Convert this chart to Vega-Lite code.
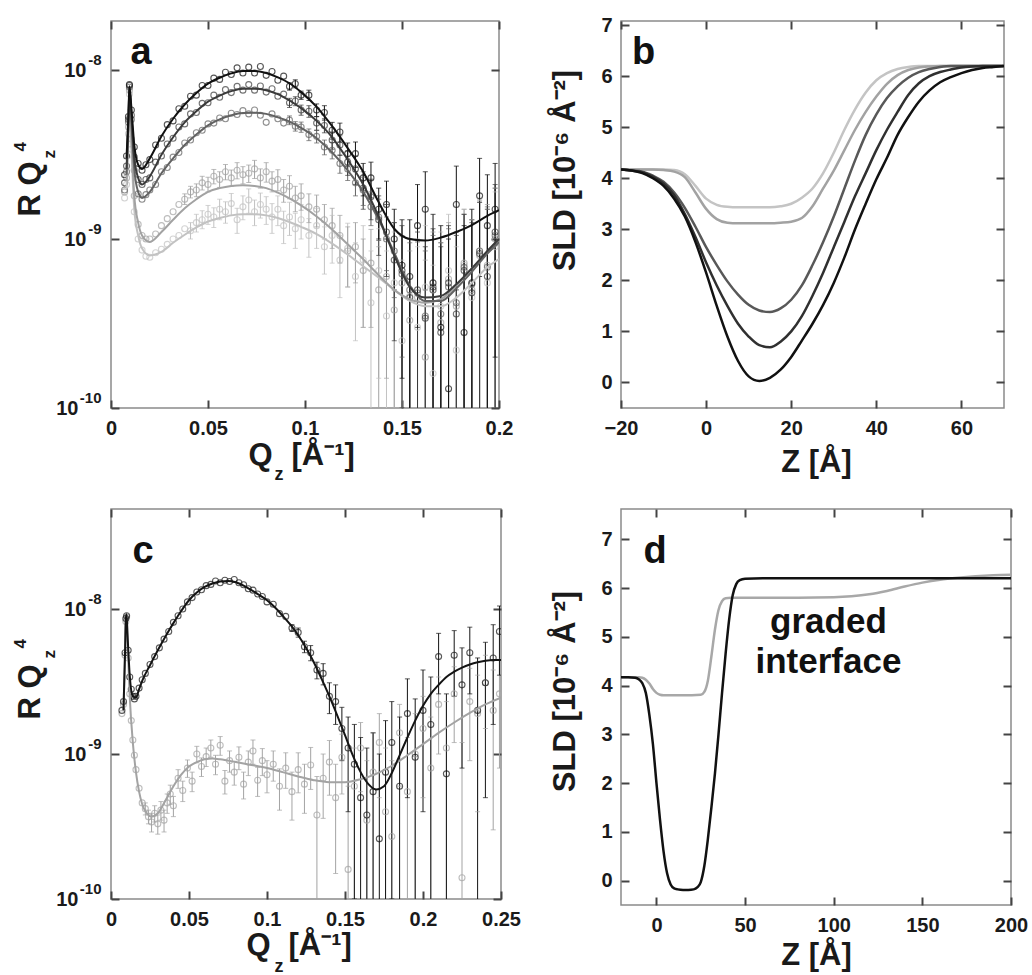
{
"$schema": "https://vega.github.io/schema/vega-lite/v6.json",
"background": "white",
"autosize": {"type": "pad"},
"padding": {"left": 10, "top": 6, "right": 0, "bottom": 0},
"columns": 2,
"bounds": "flush",
"spacing": {"row": 101, "column": 120},
"resolve": {"scale": {"color": "independent"}},
"config": {
  "font": "Liberation Sans",
  "view": {"stroke": "#8a8a8a", "strokeWidth": 1.5},
  "axis": {"grid": false, "domain": false, "labelFont": "Liberation Sans", "labelFontWeight": "bold", "labelFontSize": 20, "labelColor": "#1a1a1a", "labelOverlap": false, "titleFont": "Liberation Sans", "titleFontWeight": "bold", "titleFontSize": 31, "titleColor": "#1a1a1a", "tickColor": "#444444", "tickWidth": 2}
},
"datasets": {
"a_pts": [
{"s":"5","q":0.007,"r":1.75e-9},{"s":"5","q":0.008,"r":2.1e-9},{"s":"5","q":0.009,"r":4.2e-9},{"s":"5","q":0.0095,"r":7.2e-9},{"s":"5","q":0.0105,"r":3.4e-9},{"s":"5","q":0.012,"r":1.45e-9},{"s":"5","q":0.014,"r":1.0e-9},{"s":"5","q":0.016,"r":8.6e-10},{"s":"5","q":0.018,"r":7.9e-10},{"s":"5","q":0.02,"r":7.8e-10},{"s":"5","q":0.023,"r":8.3e-10},{"s":"5","q":0.026,"r":8.7e-10},{"s":"5","q":0.029,"r":9.3e-10},{"s":"5","q":0.032,"r":1.0e-9},{"s":"5","q":0.035,"r":1.05e-9},{"s":"5","q":0.038,"r":1.15e-9},
{"s":"5","q":0.041,"r":1.12e-9,"lo":1.0e-9,"hi":1.25e-9},{"s":"5","q":0.044,"r":1.25e-9,"lo":1.1e-9,"hi":1.4e-9},{"s":"5","q":0.047,"r":1.3e-9,"lo":1.15e-9,"hi":1.47e-9},{"s":"5","q":0.05,"r":1.4e-9,"lo":1.22e-9,"hi":1.58e-9},{"s":"5","q":0.053,"r":1.35e-9,"lo":1.17e-9,"hi":1.53e-9},{"s":"5","q":0.056,"r":1.5e-9,"lo":1.3e-9,"hi":1.72e-9},{"s":"5","q":0.059,"r":1.45e-9,"lo":1.24e-9,"hi":1.66e-9},{"s":"5","q":0.062,"r":1.62e-9,"lo":1.38e-9,"hi":1.86e-9},{"s":"5","q":0.065,"r":1.3e-9,"lo":1.08e-9,"hi":1.52e-9},{"s":"5","q":0.068,"r":1.55e-9,"lo":1.3e-9,"hi":1.8e-9},{"s":"5","q":0.071,"r":1.7e-9,"lo":1.42e-9,"hi":1.98e-9},{"s":"5","q":0.074,"r":1.45e-9,"lo":1.2e-9,"hi":1.7e-9},{"s":"5","q":0.077,"r":1.6e-9,"lo":1.33e-9,"hi":1.87e-9},{"s":"5","q":0.08,"r":1.5e-9,"lo":1.22e-9,"hi":1.78e-9},{"s":"5","q":0.083,"r":1.35e-9,"lo":1.08e-9,"hi":1.62e-9},{"s":"5","q":0.086,"r":1.5e-9,"lo":1.2e-9,"hi":1.8e-9},{"s":"5","q":0.089,"r":1.2e-9,"lo":9.4e-10,"hi":1.46e-9},{"s":"5","q":0.092,"r":1.35e-9,"lo":1.05e-9,"hi":1.65e-9},{"s":"5","q":0.095,"r":1.15e-9,"lo":8.8e-10,"hi":1.42e-9},{"s":"5","q":0.098,"r":1.3e-9,"lo":1.0e-9,"hi":1.6e-9},
{"s":"5","q":0.102,"r":1.05e-9,"lo":7.8e-10,"hi":1.32e-9},{"s":"5","q":0.106,"r":1.2e-9,"lo":8.8e-10,"hi":1.52e-9},{"s":"5","q":0.11,"r":9.0e-10,"lo":6.2e-10,"hi":1.18e-9},{"s":"5","q":0.114,"r":1.05e-9,"lo":7.2e-10,"hi":1.38e-9},{"s":"5","q":0.118,"r":7.5e-10,"lo":4.5e-10,"hi":1.05e-9},{"s":"5","q":0.122,"r":8.8e-10,"lo":5.2e-10,"hi":1.24e-9},{"s":"5","q":0.126,"r":6.0e-10,"lo":2.5e-10,"hi":9.5e-10},{"s":"5","q":0.13,"r":7.5e-10,"lo":3.0e-10,"hi":1.2e-9},{"s":"5","q":0.134,"r":4.2e-10,"lo":1e-11,"hi":8.5e-10},{"s":"5","q":0.138,"r":6.5e-10,"lo":1.5e-10,"hi":1.15e-9},{"s":"5","q":0.142,"r":3.5e-10,"lo":1e-11,"hi":8.5e-10},{"s":"5","q":0.146,"r":5.5e-10,"lo":1e-11,"hi":1.1e-9},{"s":"5","q":0.15,"r":2.5e-10,"lo":1e-11,"hi":7.5e-10},{"s":"5","q":0.154,"r":4.6e-10,"lo":1e-11,"hi":1.0e-9},{"s":"5","q":0.158,"r":3.0e-10,"lo":1e-11,"hi":9.0e-10},{"s":"5","q":0.162,"r":5.2e-10,"lo":1e-11,"hi":1.2e-9},{"s":"5","q":0.166,"r":1.6e-10,"lo":1e-11,"hi":7.0e-10},{"s":"5","q":0.17,"r":4.0e-10,"lo":1e-11,"hi":1.1e-9},{"s":"5","q":0.174,"r":6.5e-10,"lo":1e-11,"hi":1.4e-9},{"s":"5","q":0.178,"r":2.2e-10,"lo":1e-11,"hi":9.0e-10},{"s":"5","q":0.182,"r":7.0e-10,"lo":1e-11,"hi":1.5e-9},{"s":"5","q":0.186,"r":4.5e-10,"lo":1e-11,"hi":1.3e-9},{"s":"5","q":0.19,"r":8.5e-10,"lo":1e-11,"hi":1.7e-9},{"s":"5","q":0.194,"r":5.5e-10,"lo":1e-11,"hi":1.5e-9},{"s":"5","q":0.198,"r":9.0e-10,"lo":1e-11,"hi":1.9e-9},

{"s":"4","q":0.007,"r":1.9e-9},{"s":"4","q":0.008,"r":2.3e-9},{"s":"4","q":0.009,"r":4.6e-9},{"s":"4","q":0.0095,"r":7.6e-9},{"s":"4","q":0.0105,"r":3.9e-9},{"s":"4","q":0.012,"r":1.8e-9},{"s":"4","q":0.014,"r":1.22e-9},{"s":"4","q":0.016,"r":1.05e-9},{"s":"4","q":0.018,"r":1.0e-9},{"s":"4","q":0.02,"r":1.0e-9},{"s":"4","q":0.023,"r":1.07e-9},{"s":"4","q":0.026,"r":1.2e-9},{"s":"4","q":0.029,"r":1.32e-9},{"s":"4","q":0.032,"r":1.45e-9},{"s":"4","q":0.035,"r":1.6e-9},
{"s":"4","q":0.038,"r":1.72e-9,"lo":1.6e-9,"hi":1.85e-9},{"s":"4","q":0.041,"r":1.9e-9,"lo":1.75e-9,"hi":2.05e-9},{"s":"4","q":0.044,"r":1.95e-9,"lo":1.78e-9,"hi":2.12e-9},{"s":"4","q":0.047,"r":2.15e-9,"lo":1.95e-9,"hi":2.35e-9},{"s":"4","q":0.05,"r":2.1e-9,"lo":1.9e-9,"hi":2.32e-9},{"s":"4","q":0.053,"r":2.35e-9,"lo":2.12e-9,"hi":2.58e-9},{"s":"4","q":0.056,"r":2.25e-9,"lo":2.02e-9,"hi":2.5e-9},{"s":"4","q":0.059,"r":2.5e-9,"lo":2.24e-9,"hi":2.76e-9},{"s":"4","q":0.062,"r":2.3e-9,"lo":2.05e-9,"hi":2.56e-9},{"s":"4","q":0.065,"r":2.55e-9,"lo":2.27e-9,"hi":2.83e-9},{"s":"4","q":0.068,"r":2.4e-9,"lo":2.12e-9,"hi":2.68e-9},{"s":"4","q":0.071,"r":2.45e-9,"lo":2.16e-9,"hi":2.74e-9},{"s":"4","q":0.074,"r":2.6e-9,"lo":2.28e-9,"hi":2.92e-9},{"s":"4","q":0.077,"r":2.3e-9,"lo":2.0e-9,"hi":2.6e-9},{"s":"4","q":0.08,"r":2.5e-9,"lo":2.17e-9,"hi":2.83e-9},{"s":"4","q":0.083,"r":2.2e-9,"lo":1.9e-9,"hi":2.5e-9},{"s":"4","q":0.086,"r":2.25e-9,"lo":1.93e-9,"hi":2.57e-9},{"s":"4","q":0.089,"r":1.95e-9,"lo":1.65e-9,"hi":2.25e-9},{"s":"4","q":0.092,"r":2.05e-9,"lo":1.73e-9,"hi":2.37e-9},{"s":"4","q":0.095,"r":1.75e-9,"lo":1.45e-9,"hi":2.05e-9},{"s":"4","q":0.098,"r":1.8e-9,"lo":1.48e-9,"hi":2.12e-9},
{"s":"4","q":0.102,"r":1.55e-9,"lo":1.25e-9,"hi":1.85e-9},{"s":"4","q":0.106,"r":1.5e-9,"lo":1.18e-9,"hi":1.82e-9},{"s":"4","q":0.11,"r":1.3e-9,"lo":1.0e-9,"hi":1.6e-9},{"s":"4","q":0.114,"r":1.2e-9,"lo":8.8e-10,"hi":1.52e-9},{"s":"4","q":0.118,"r":1.05e-9,"lo":7.2e-10,"hi":1.38e-9},{"s":"4","q":0.122,"r":8.5e-10,"lo":5.2e-10,"hi":1.18e-9},{"s":"4","q":0.126,"r":9.0e-10,"lo":5.5e-10,"hi":1.25e-9},{"s":"4","q":0.13,"r":6.5e-10,"lo":3.0e-10,"hi":1.0e-9},{"s":"4","q":0.134,"r":7.2e-10,"lo":3.0e-10,"hi":1.14e-9},{"s":"4","q":0.138,"r":5.0e-10,"lo":1.0e-10,"hi":9.0e-10},{"s":"4","q":0.142,"r":6.0e-10,"lo":1.5e-10,"hi":1.05e-9},{"s":"4","q":0.146,"r":3.8e-10,"lo":1e-11,"hi":8.5e-10},{"s":"4","q":0.15,"r":5.5e-10,"lo":1e-11,"hi":1.05e-9},{"s":"4","q":0.154,"r":3.3e-10,"lo":1e-11,"hi":8.5e-10},{"s":"4","q":0.158,"r":4.5e-10,"lo":1e-11,"hi":1.0e-9},{"s":"4","q":0.162,"r":2.0e-10,"lo":1e-11,"hi":7.5e-10},{"s":"4","q":0.166,"r":5.0e-10,"lo":1e-11,"hi":1.1e-9},{"s":"4","q":0.17,"r":3.2e-10,"lo":1e-11,"hi":9.5e-10},{"s":"4","q":0.174,"r":5.8e-10,"lo":1e-11,"hi":1.25e-9},{"s":"4","q":0.178,"r":4.0e-10,"lo":1e-11,"hi":1.1e-9},{"s":"4","q":0.182,"r":7.2e-10,"lo":1e-11,"hi":1.5e-9},{"s":"4","q":0.186,"r":5.0e-10,"lo":1e-11,"hi":1.3e-9},{"s":"4","q":0.19,"r":8.0e-10,"lo":1e-11,"hi":1.7e-9},{"s":"4","q":0.194,"r":7.0e-10,"lo":1e-11,"hi":1.6e-9},{"s":"4","q":0.198,"r":1.0e-9,"lo":1e-11,"hi":2.0e-9},

{"s":"3","q":0.007,"r":1.95e-9},{"s":"3","q":0.008,"r":2.5e-9},{"s":"3","q":0.009,"r":4.9e-9},{"s":"3","q":0.0095,"r":7.9e-9},{"s":"3","q":0.0105,"r":5.1e-9},{"s":"3","q":0.012,"r":2.55e-9},{"s":"3","q":0.014,"r":1.85e-9},{"s":"3","q":0.016,"r":1.72e-9},{"s":"3","q":0.018,"r":1.83e-9},{"s":"3","q":0.02,"r":1.95e-9},{"s":"3","q":0.023,"r":2.1e-9},{"s":"3","q":0.026,"r":2.5e-9},{"s":"3","q":0.029,"r":2.65e-9},{"s":"3","q":0.032,"r":3.05e-9},{"s":"3","q":0.035,"r":3.25e-9},{"s":"3","q":0.038,"r":3.7e-9},{"s":"3","q":0.041,"r":3.85e-9},{"s":"3","q":0.044,"r":4.25e-9},{"s":"3","q":0.047,"r":4.4e-9},{"s":"3","q":0.05,"r":4.8e-9},{"s":"3","q":0.053,"r":4.85e-9},{"s":"3","q":0.056,"r":5.2e-9},{"s":"3","q":0.059,"r":5.15e-9},{"s":"3","q":0.062,"r":5.55e-9},{"s":"3","q":0.065,"r":5.45e-9},{"s":"3","q":0.068,"r":5.75e-9},{"s":"3","q":0.071,"r":5.5e-9},{"s":"3","q":0.074,"r":5.8e-9},{"s":"3","q":0.077,"r":5.4e-9},{"s":"3","q":0.08,"r":4.9e-9},{"s":"3","q":0.083,"r":5.5e-9},{"s":"3","q":0.086,"r":5.15e-9},{"s":"3","q":0.089,"r":4.85e-9},
{"s":"3","q":0.092,"r":5.05e-9,"lo":4.75e-9,"hi":5.35e-9},{"s":"3","q":0.095,"r":4.65e-9,"lo":4.35e-9,"hi":4.95e-9},{"s":"3","q":0.098,"r":4.6e-9,"lo":4.28e-9,"hi":4.92e-9},{"s":"3","q":0.102,"r":4.15e-9,"lo":3.82e-9,"hi":4.48e-9},{"s":"3","q":0.106,"r":4.05e-9,"lo":3.7e-9,"hi":4.4e-9},{"s":"3","q":0.11,"r":3.5e-9,"lo":3.15e-9,"hi":3.85e-9},{"s":"3","q":0.114,"r":3.35e-9,"lo":2.98e-9,"hi":3.72e-9},{"s":"3","q":0.118,"r":2.8e-9,"lo":2.45e-9,"hi":3.15e-9},{"s":"3","q":0.122,"r":2.6e-9,"lo":2.22e-9,"hi":2.98e-9},{"s":"3","q":0.126,"r":2.15e-9,"lo":1.8e-9,"hi":2.5e-9},{"s":"3","q":0.13,"r":1.95e-9,"lo":1.58e-9,"hi":2.32e-9},{"s":"3","q":0.134,"r":1.55e-9,"lo":1.2e-9,"hi":1.9e-9},{"s":"3","q":0.138,"r":1.35e-9,"lo":9.8e-10,"hi":1.72e-9},{"s":"3","q":0.142,"r":1.0e-9,"lo":6.5e-10,"hi":1.35e-9},{"s":"3","q":0.146,"r":8.5e-10,"lo":4.5e-10,"hi":1.25e-9},{"s":"3","q":0.15,"r":6.2e-10,"lo":2.0e-10,"hi":1.04e-9},{"s":"3","q":0.154,"r":5.0e-10,"lo":5e-11,"hi":9.5e-10},{"s":"3","q":0.158,"r":4.8e-10,"lo":1e-11,"hi":9.6e-10},{"s":"3","q":0.162,"r":3.5e-10,"lo":1e-11,"hi":8.5e-10},{"s":"3","q":0.166,"r":5.0e-10,"lo":1e-11,"hi":1.05e-9},{"s":"3","q":0.17,"r":3.6e-10,"lo":1e-11,"hi":9.5e-10},{"s":"3","q":0.174,"r":5.2e-10,"lo":1e-11,"hi":1.15e-9},{"s":"3","q":0.178,"r":4.2e-10,"lo":1e-11,"hi":1.1e-9},{"s":"3","q":0.182,"r":6.8e-10,"lo":1e-11,"hi":1.4e-9},{"s":"3","q":0.186,"r":5.4e-10,"lo":1e-11,"hi":1.3e-9},{"s":"3","q":0.19,"r":8.5e-10,"lo":1e-11,"hi":1.65e-9},{"s":"3","q":0.194,"r":6.8e-10,"lo":1e-11,"hi":1.55e-9},{"s":"3","q":0.198,"r":1.05e-9,"lo":1e-11,"hi":2.0e-9},

{"s":"2","q":0.007,"r":2.15e-9},{"s":"2","q":0.008,"r":2.7e-9},{"s":"2","q":0.009,"r":5.1e-9},{"s":"2","q":0.0095,"r":8.1e-9},{"s":"2","q":0.0105,"r":5.4e-9},{"s":"2","q":0.012,"r":3.05e-9},{"s":"2","q":0.014,"r":2.25e-9},{"s":"2","q":0.016,"r":2.1e-9},{"s":"2","q":0.018,"r":2.25e-9},{"s":"2","q":0.02,"r":2.3e-9},{"s":"2","q":0.023,"r":2.85e-9},{"s":"2","q":0.026,"r":3.1e-9},{"s":"2","q":0.029,"r":3.65e-9},{"s":"2","q":0.032,"r":3.95e-9},{"s":"2","q":0.035,"r":4.6e-9},{"s":"2","q":0.038,"r":4.8e-9},{"s":"2","q":0.041,"r":5.5e-9},{"s":"2","q":0.044,"r":5.6e-9},{"s":"2","q":0.047,"r":6.35e-9},{"s":"2","q":0.05,"r":6.4e-9},{"s":"2","q":0.053,"r":7.1e-9},{"s":"2","q":0.056,"r":6.9e-9},{"s":"2","q":0.059,"r":7.65e-9},{"s":"2","q":0.062,"r":7.35e-9},{"s":"2","q":0.065,"r":8.0e-9},{"s":"2","q":0.068,"r":7.6e-9},{"s":"2","q":0.071,"r":8.2e-9},{"s":"2","q":0.074,"r":7.6e-9},{"s":"2","q":0.077,"r":8.05e-9},{"s":"2","q":0.08,"r":7.4e-9},{"s":"2","q":0.083,"r":7.75e-9},{"s":"2","q":0.086,"r":7.0e-9},{"s":"2","q":0.089,"r":7.2e-9},
{"s":"2","q":0.092,"r":6.4e-9,"lo":6.0e-9,"hi":6.8e-9},{"s":"2","q":0.095,"r":6.55e-9,"lo":6.15e-9,"hi":6.95e-9},{"s":"2","q":0.098,"r":5.8e-9,"lo":5.4e-9,"hi":6.2e-9},{"s":"2","q":0.102,"r":5.7e-9,"lo":5.25e-9,"hi":6.15e-9},{"s":"2","q":0.106,"r":4.85e-9,"lo":4.4e-9,"hi":5.3e-9},{"s":"2","q":0.11,"r":4.7e-9,"lo":4.25e-9,"hi":5.15e-9},{"s":"2","q":0.114,"r":3.85e-9,"lo":3.4e-9,"hi":4.3e-9},{"s":"2","q":0.118,"r":3.6e-9,"lo":3.12e-9,"hi":4.08e-9},{"s":"2","q":0.122,"r":2.85e-9,"lo":2.38e-9,"hi":3.32e-9},{"s":"2","q":0.126,"r":2.6e-9,"lo":2.1e-9,"hi":3.1e-9},{"s":"2","q":0.13,"r":2.0e-9,"lo":1.5e-9,"hi":2.5e-9},{"s":"2","q":0.134,"r":1.78e-9,"lo":1.3e-9,"hi":2.26e-9},{"s":"2","q":0.138,"r":1.3e-9,"lo":8.0e-10,"hi":1.8e-9},{"s":"2","q":0.142,"r":1.1e-9,"lo":6.0e-10,"hi":1.6e-9},{"s":"2","q":0.146,"r":7.5e-10,"lo":2.5e-10,"hi":1.25e-9},{"s":"2","q":0.15,"r":6.5e-10,"lo":1.0e-10,"hi":1.2e-9},{"s":"2","q":0.154,"r":4.5e-10,"lo":1e-11,"hi":1.0e-9},{"s":"2","q":0.158,"r":5.0e-10,"lo":1e-11,"hi":1.1e-9},{"s":"2","q":0.162,"r":3.4e-10,"lo":1e-11,"hi":9.0e-10},{"s":"2","q":0.166,"r":5.2e-10,"lo":1e-11,"hi":1.15e-9},{"s":"2","q":0.17,"r":2.8e-10,"lo":1e-11,"hi":9.0e-10},{"s":"2","q":0.174,"r":5.5e-10,"lo":1e-11,"hi":1.2e-9},{"s":"2","q":0.178,"r":3.6e-10,"lo":1e-11,"hi":1.05e-9},{"s":"2","q":0.182,"r":6.5e-10,"lo":1e-11,"hi":1.4e-9},{"s":"2","q":0.186,"r":4.8e-10,"lo":1e-11,"hi":1.25e-9},{"s":"2","q":0.19,"r":8.2e-10,"lo":1e-11,"hi":1.65e-9},{"s":"2","q":0.194,"r":6.0e-10,"lo":1e-11,"hi":1.5e-9},{"s":"2","q":0.198,"r":1.1e-9,"lo":1e-11,"hi":2.1e-9},

{"s":"1","q":0.007,"r":2.4e-9},{"s":"1","q":0.008,"r":3.1e-9},{"s":"1","q":0.009,"r":5.3e-9},{"s":"1","q":0.0095,"r":8.2e-9},{"s":"1","q":0.0105,"r":5.8e-9},{"s":"1","q":0.012,"r":3.5e-9},{"s":"1","q":0.014,"r":2.8e-9},{"s":"1","q":0.016,"r":2.55e-9},{"s":"1","q":0.018,"r":2.75e-9},{"s":"1","q":0.02,"r":2.95e-9},{"s":"1","q":0.023,"r":3.6e-9},{"s":"1","q":0.026,"r":3.95e-9},{"s":"1","q":0.029,"r":4.75e-9},{"s":"1","q":0.032,"r":5.0e-9},{"s":"1","q":0.035,"r":5.9e-9},{"s":"1","q":0.038,"r":6.1e-9},{"s":"1","q":0.041,"r":7.0e-9},{"s":"1","q":0.044,"r":7.1e-9},{"s":"1","q":0.047,"r":8.1e-9},{"s":"1","q":0.05,"r":8.1e-9},{"s":"1","q":0.053,"r":8.95e-9},{"s":"1","q":0.056,"r":8.8e-9},{"s":"1","q":0.059,"r":9.7e-9},{"s":"1","q":0.062,"r":9.4e-9},{"s":"1","q":0.065,"r":1.03e-8},{"s":"1","q":0.068,"r":9.6e-9},{"s":"1","q":0.071,"r":1.04e-8},{"s":"1","q":0.074,"r":9.6e-9},{"s":"1","q":0.077,"r":1.05e-8},{"s":"1","q":0.08,"r":9.3e-9},{"s":"1","q":0.083,"r":9.8e-9},{"s":"1","q":0.086,"r":8.7e-9},{"s":"1","q":0.089,"r":9.2e-9},
{"s":"1","q":0.092,"r":8.0e-9,"lo":7.6e-9,"hi":8.4e-9},{"s":"1","q":0.095,"r":8.3e-9,"lo":7.85e-9,"hi":8.75e-9},{"s":"1","q":0.098,"r":7.1e-9,"lo":6.7e-9,"hi":7.5e-9},{"s":"1","q":0.102,"r":7.1e-9,"lo":6.6e-9,"hi":7.6e-9},{"s":"1","q":0.106,"r":5.8e-9,"lo":5.3e-9,"hi":6.3e-9},{"s":"1","q":0.11,"r":5.6e-9,"lo":5.05e-9,"hi":6.15e-9},{"s":"1","q":0.114,"r":4.4e-9,"lo":3.9e-9,"hi":4.9e-9},{"s":"1","q":0.118,"r":4.3e-9,"lo":3.75e-9,"hi":4.85e-9},{"s":"1","q":0.122,"r":3.2e-9,"lo":2.7e-9,"hi":3.7e-9},{"s":"1","q":0.126,"r":3.2e-9,"lo":2.65e-9,"hi":3.75e-9},{"s":"1","q":0.13,"r":2.3e-9,"lo":1.8e-9,"hi":2.8e-9},{"s":"1","q":0.134,"r":2.3e-9,"lo":1.75e-9,"hi":2.85e-9},{"s":"1","q":0.138,"r":1.5e-9,"lo":1.0e-9,"hi":2.0e-9},{"s":"1","q":0.142,"r":1.6e-9,"lo":1.0e-9,"hi":2.2e-9},{"s":"1","q":0.146,"r":1.0e-9,"lo":5.0e-10,"hi":1.5e-9},{"s":"1","q":0.15,"r":7.0e-10,"lo":1.5e-10,"hi":1.3e-9},{"s":"1","q":0.154,"r":6.0e-10,"lo":1e-11,"hi":1.3e-9},{"s":"1","q":0.158,"r":1.2e-9,"lo":3.0e-10,"hi":2.1e-9},{"s":"1","q":0.162,"r":1.5e-9,"lo":5.0e-10,"hi":2.5e-9},{"s":"1","q":0.166,"r":5.5e-10,"lo":1e-11,"hi":1.4e-9},{"s":"1","q":0.17,"r":3.0e-10,"lo":1e-11,"hi":1.2e-9},{"s":"1","q":0.174,"r":1.3e-10,"lo":1e-11,"hi":1.0e-9},{"s":"1","q":0.178,"r":1.6e-9,"lo":5.0e-10,"hi":2.7e-9},{"s":"1","q":0.182,"r":2.8e-10,"lo":1e-11,"hi":1.2e-9},{"s":"1","q":0.186,"r":5.5e-10,"lo":1e-11,"hi":1.5e-9},{"s":"1","q":0.19,"r":1.8e-9,"lo":6.0e-10,"hi":3.0e-9},{"s":"1","q":0.194,"r":1.2e-9,"lo":1e-11,"hi":2.4e-9},{"s":"1","q":0.198,"r":1.5e-9,"lo":2.0e-10,"hi":2.8e-9}
],
"a_fit": [
{"s":"5","q":0.008,"r":2.0e-9},{"s":"5","q":0.009,"r":4.0e-9},{"s":"5","q":0.0095,"r":7.0e-9},{"s":"5","q":0.0105,"r":3.5e-9},{"s":"5","q":0.012,"r":1.5e-9},{"s":"5","q":0.014,"r":1.05e-9},{"s":"5","q":0.016,"r":8.8e-10},{"s":"5","q":0.02,"r":8.0e-10},{"s":"5","q":0.026,"r":8.4e-10},{"s":"5","q":0.032,"r":9.5e-10},{"s":"5","q":0.038,"r":1.06e-9},{"s":"5","q":0.044,"r":1.17e-9},{"s":"5","q":0.05,"r":1.27e-9},{"s":"5","q":0.056,"r":1.33e-9},{"s":"5","q":0.062,"r":1.38e-9},{"s":"5","q":0.068,"r":1.4e-9},{"s":"5","q":0.074,"r":1.4e-9},{"s":"5","q":0.08,"r":1.38e-9},{"s":"5","q":0.086,"r":1.33e-9},{"s":"5","q":0.092,"r":1.26e-9},{"s":"5","q":0.098,"r":1.18e-9},{"s":"5","q":0.106,"r":1.07e-9},{"s":"5","q":0.114,"r":9.4e-10},{"s":"5","q":0.122,"r":8.1e-10},{"s":"5","q":0.13,"r":6.9e-10},{"s":"5","q":0.138,"r":5.9e-10},{"s":"5","q":0.146,"r":5.0e-10},{"s":"5","q":0.154,"r":4.3e-10},{"s":"5","q":0.162,"r":4.0e-10},{"s":"5","q":0.17,"r":4.0e-10},{"s":"5","q":0.178,"r":4.5e-10},{"s":"5","q":0.186,"r":5.5e-10},{"s":"5","q":0.194,"r":6.8e-10},{"s":"5","q":0.2,"r":7.6e-10},
{"s":"4","q":0.008,"r":2.2e-9},{"s":"4","q":0.009,"r":4.5e-9},{"s":"4","q":0.0095,"r":7.5e-9},{"s":"4","q":0.0105,"r":4.0e-9},{"s":"4","q":0.012,"r":1.8e-9},{"s":"4","q":0.014,"r":1.25e-9},{"s":"4","q":0.016,"r":1.05e-9},{"s":"4","q":0.02,"r":9.6e-10},{"s":"4","q":0.026,"r":1.1e-9},{"s":"4","q":0.032,"r":1.3e-9},{"s":"4","q":0.038,"r":1.52e-9},{"s":"4","q":0.044,"r":1.72e-9},{"s":"4","q":0.05,"r":1.9e-9},{"s":"4","q":0.056,"r":2.0e-9},{"s":"4","q":0.062,"r":2.06e-9},{"s":"4","q":0.068,"r":2.08e-9},{"s":"4","q":0.074,"r":2.06e-9},{"s":"4","q":0.08,"r":2.0e-9},{"s":"4","q":0.086,"r":1.88e-9},{"s":"4","q":0.092,"r":1.74e-9},{"s":"4","q":0.098,"r":1.58e-9},{"s":"4","q":0.106,"r":1.36e-9},{"s":"4","q":0.114,"r":1.14e-9},{"s":"4","q":0.122,"r":9.3e-10},{"s":"4","q":0.13,"r":7.6e-10},{"s":"4","q":0.138,"r":6.1e-10},{"s":"4","q":0.146,"r":5.0e-10},{"s":"4","q":0.154,"r":4.4e-10},{"s":"4","q":0.162,"r":4.2e-10},{"s":"4","q":0.17,"r":4.4e-10},{"s":"4","q":0.178,"r":5.3e-10},{"s":"4","q":0.186,"r":6.7e-10},{"s":"4","q":0.194,"r":8.3e-10},{"s":"4","q":0.2,"r":9.4e-10},
{"s":"3","q":0.008,"r":2.4e-9},{"s":"3","q":0.009,"r":5.0e-9},{"s":"3","q":0.0095,"r":8.0e-9},{"s":"3","q":0.0105,"r":5.0e-9},{"s":"3","q":0.012,"r":2.6e-9},{"s":"3","q":0.014,"r":1.9e-9},{"s":"3","q":0.016,"r":1.75e-9},{"s":"3","q":0.02,"r":1.9e-9},{"s":"3","q":0.026,"r":2.45e-9},{"s":"3","q":0.032,"r":3.0e-9},{"s":"3","q":0.038,"r":3.6e-9},{"s":"3","q":0.044,"r":4.15e-9},{"s":"3","q":0.05,"r":4.7e-9},{"s":"3","q":0.056,"r":5.1e-9},{"s":"3","q":0.062,"r":5.4e-9},{"s":"3","q":0.068,"r":5.57e-9},{"s":"3","q":0.074,"r":5.58e-9},{"s":"3","q":0.08,"r":5.5e-9},{"s":"3","q":0.086,"r":5.25e-9},{"s":"3","q":0.092,"r":4.95e-9},{"s":"3","q":0.098,"r":4.55e-9},{"s":"3","q":0.106,"r":3.95e-9},{"s":"3","q":0.114,"r":3.25e-9},{"s":"3","q":0.122,"r":2.55e-9},{"s":"3","q":0.13,"r":1.9e-9},{"s":"3","q":0.138,"r":1.3e-9},{"s":"3","q":0.146,"r":8.3e-10},{"s":"3","q":0.154,"r":5.3e-10},{"s":"3","q":0.162,"r":4.3e-10},{"s":"3","q":0.17,"r":4.3e-10},{"s":"3","q":0.178,"r":5.1e-10},{"s":"3","q":0.186,"r":6.4e-10},{"s":"3","q":0.194,"r":8.2e-10},{"s":"3","q":0.2,"r":9.6e-10},
{"s":"2","q":0.008,"r":2.6e-9},{"s":"2","q":0.009,"r":5.0e-9},{"s":"2","q":0.0095,"r":8.0e-9},{"s":"2","q":0.0105,"r":5.5e-9},{"s":"2","q":0.012,"r":3.0e-9},{"s":"2","q":0.014,"r":2.3e-9},{"s":"2","q":0.016,"r":2.1e-9},{"s":"2","q":0.02,"r":2.35e-9},{"s":"2","q":0.026,"r":3.15e-9},{"s":"2","q":0.032,"r":4.0e-9},{"s":"2","q":0.038,"r":4.9e-9},{"s":"2","q":0.044,"r":5.7e-9},{"s":"2","q":0.05,"r":6.5e-9},{"s":"2","q":0.056,"r":7.05e-9},{"s":"2","q":0.062,"r":7.5e-9},{"s":"2","q":0.068,"r":7.75e-9},{"s":"2","q":0.074,"r":7.75e-9},{"s":"2","q":0.08,"r":7.6e-9},{"s":"2","q":0.086,"r":7.2e-9},{"s":"2","q":0.092,"r":6.6e-9},{"s":"2","q":0.098,"r":5.95e-9},{"s":"2","q":0.106,"r":5.0e-9},{"s":"2","q":0.114,"r":4.0e-9},{"s":"2","q":0.122,"r":2.95e-9},{"s":"2","q":0.13,"r":2.1e-9},{"s":"2","q":0.138,"r":1.35e-9},{"s":"2","q":0.146,"r":8.0e-10},{"s":"2","q":0.154,"r":5.2e-10},{"s":"2","q":0.162,"r":4.5e-10},{"s":"2","q":0.17,"r":4.6e-10},{"s":"2","q":0.178,"r":5.4e-10},{"s":"2","q":0.186,"r":6.7e-10},{"s":"2","q":0.194,"r":8.5e-10},{"s":"2","q":0.2,"r":1.0e-9},
{"s":"1","q":0.008,"r":3.0e-9},{"s":"1","q":0.009,"r":5.5e-9},{"s":"1","q":0.0095,"r":8.0e-9},{"s":"1","q":0.0105,"r":6.0e-9},{"s":"1","q":0.012,"r":3.6e-9},{"s":"1","q":0.014,"r":2.75e-9},{"s":"1","q":0.016,"r":2.6e-9},{"s":"1","q":0.02,"r":3.0e-9},{"s":"1","q":0.026,"r":4.05e-9},{"s":"1","q":0.032,"r":5.15e-9},{"s":"1","q":0.038,"r":6.25e-9},{"s":"1","q":0.044,"r":7.3e-9},{"s":"1","q":0.05,"r":8.3e-9},{"s":"1","q":0.056,"r":9.0e-9},{"s":"1","q":0.062,"r":9.55e-9},{"s":"1","q":0.068,"r":9.85e-9},{"s":"1","q":0.074,"r":9.85e-9},{"s":"1","q":0.08,"r":9.6e-9},{"s":"1","q":0.086,"r":9.05e-9},{"s":"1","q":0.092,"r":8.35e-9},{"s":"1","q":0.098,"r":7.4e-9},{"s":"1","q":0.106,"r":6.05e-9},{"s":"1","q":0.114,"r":4.65e-9},{"s":"1","q":0.122,"r":3.45e-9},{"s":"1","q":0.13,"r":2.5e-9},{"s":"1","q":0.138,"r":1.65e-9},{"s":"1","q":0.146,"r":1.15e-9},{"s":"1","q":0.154,"r":1.0e-9},{"s":"1","q":0.162,"r":9.8e-10},{"s":"1","q":0.17,"r":1.02e-9},{"s":"1","q":0.178,"r":1.1e-9},{"s":"1","q":0.186,"r":1.21e-9},{"s":"1","q":0.194,"r":1.37e-9},{"s":"1","q":0.2,"r":1.48e-9}
],
"a_lab": [{"q":0.0155,"r":1.08e-8,"t":"a"}],
"c_pts": [
{"s":"2","q":0.007,"r":1.9e-9},{"s":"2","q":0.008,"r":2.2e-9},{"s":"2","q":0.009,"r":4.8e-9},{"s":"2","q":0.0095,"r":8.2e-9},{"s":"2","q":0.01,"r":8.8e-9},{"s":"2","q":0.011,"r":4.6e-9},{"s":"2","q":0.012,"r":2.6e-9},{"s":"2","q":0.013,"r":1.7e-9},{"s":"2","q":0.014,"r":1.25e-9},{"s":"2","q":0.015,"r":9.8e-10},{"s":"2","q":0.016,"r":7.8e-10},{"s":"2","q":0.018,"r":5.8e-10},{"s":"2","q":0.02,"r":4.6e-10},
{"s":"2","q":0.022,"r":4.2e-10,"lo":3.8e-10,"hi":4.6e-10},{"s":"2","q":0.024,"r":3.7e-10,"lo":3.3e-10,"hi":4.1e-10},{"s":"2","q":0.026,"r":3.4e-10,"lo":2.9e-10,"hi":3.9e-10},{"s":"2","q":0.028,"r":3.9e-10,"lo":3.4e-10,"hi":4.4e-10},{"s":"2","q":0.03,"r":3.3e-10,"lo":2.8e-10,"hi":3.8e-10},{"s":"2","q":0.032,"r":4.1e-10,"lo":3.5e-10,"hi":4.7e-10},{"s":"2","q":0.034,"r":3.5e-10,"lo":2.9e-10,"hi":4.1e-10},{"s":"2","q":0.036,"r":4.6e-10,"lo":3.9e-10,"hi":5.3e-10},{"s":"2","q":0.038,"r":5.3e-10,"lo":4.5e-10,"hi":6.1e-10},{"s":"2","q":0.04,"r":4.4e-10,"lo":3.7e-10,"hi":5.1e-10},{"s":"2","q":0.043,"r":6.8e-10,"lo":5.8e-10,"hi":7.8e-10},{"s":"2","q":0.046,"r":5.6e-10,"lo":4.7e-10,"hi":6.5e-10},{"s":"2","q":0.049,"r":8.0e-10,"lo":6.9e-10,"hi":9.1e-10},{"s":"2","q":0.052,"r":6.5e-10,"lo":5.5e-10,"hi":7.5e-10},{"s":"2","q":0.055,"r":1.0e-9,"lo":8.7e-10,"hi":1.13e-9},{"s":"2","q":0.058,"r":8.2e-10,"lo":7.0e-10,"hi":9.4e-10},{"s":"2","q":0.061,"r":9.6e-10,"lo":8.2e-10,"hi":1.1e-9},{"s":"2","q":0.064,"r":1.1e-9,"lo":9.5e-10,"hi":1.25e-9},{"s":"2","q":0.067,"r":8.5e-10,"lo":7.2e-10,"hi":9.8e-10},{"s":"2","q":0.07,"r":1.15e-9,"lo":9.8e-10,"hi":1.32e-9},{"s":"2","q":0.073,"r":6.5e-10,"lo":5.3e-10,"hi":7.7e-10},{"s":"2","q":0.076,"r":9.0e-10,"lo":7.5e-10,"hi":1.05e-9},{"s":"2","q":0.079,"r":7.5e-10,"lo":6.1e-10,"hi":8.9e-10},{"s":"2","q":0.082,"r":9.5e-10,"lo":7.8e-10,"hi":1.12e-9},{"s":"2","q":0.085,"r":6.2e-10,"lo":4.9e-10,"hi":7.5e-10},{"s":"2","q":0.088,"r":8.8e-10,"lo":7.1e-10,"hi":1.05e-9},{"s":"2","q":0.091,"r":1.05e-9,"lo":8.5e-10,"hi":1.25e-9},{"s":"2","q":0.094,"r":6.6e-10,"lo":5.1e-10,"hi":8.1e-10},{"s":"2","q":0.097,"r":9.0e-10,"lo":7.1e-10,"hi":1.09e-9},{"s":"2","q":0.1,"r":7.2e-10,"lo":5.4e-10,"hi":9.0e-10},{"s":"2","q":0.104,"r":8.5e-10,"lo":6.5e-10,"hi":1.05e-9},{"s":"2","q":0.108,"r":6.0e-10,"lo":4.1e-10,"hi":7.9e-10},{"s":"2","q":0.112,"r":8.0e-10,"lo":5.8e-10,"hi":1.02e-9},{"s":"2","q":0.116,"r":5.5e-10,"lo":3.5e-10,"hi":7.5e-10},{"s":"2","q":0.12,"r":7.8e-10,"lo":5.4e-10,"hi":1.02e-9},{"s":"2","q":0.124,"r":6.2e-10,"lo":3.9e-10,"hi":8.5e-10},{"s":"2","q":0.128,"r":8.4e-10,"lo":5.7e-10,"hi":1.11e-9},{"s":"2","q":0.132,"r":3.8e-10,"lo":1e-11,"hi":7.0e-10},{"s":"2","q":0.136,"r":6.8e-10,"lo":3.6e-10,"hi":1.0e-9},{"s":"2","q":0.14,"r":8.8e-10,"lo":5.2e-10,"hi":1.24e-9},{"s":"2","q":0.144,"r":5.0e-10,"lo":1.5e-10,"hi":8.5e-10},{"s":"2","q":0.148,"r":9.5e-10,"lo":5.3e-10,"hi":1.37e-9},{"s":"2","q":0.152,"r":1.6e-10,"lo":1e-11,"hi":6.0e-10},{"s":"2","q":0.156,"r":6.0e-10,"lo":1e-11,"hi":1.1e-9},{"s":"2","q":0.16,"r":1.1e-9,"lo":5.5e-10,"hi":1.65e-9},{"s":"2","q":0.164,"r":3.5e-10,"lo":1e-11,"hi":9.0e-10},{"s":"2","q":0.168,"r":7.5e-10,"lo":1e-11,"hi":1.4e-9},{"s":"2","q":0.172,"r":1.2e-9,"lo":5.0e-10,"hi":1.9e-9},{"s":"2","q":0.176,"r":4.0e-10,"lo":1e-11,"hi":1.1e-9},{"s":"2","q":0.18,"r":2.7e-10,"lo":1e-11,"hi":9.0e-10},{"s":"2","q":0.185,"r":1.4e-9,"lo":6.0e-10,"hi":2.2e-9},{"s":"2","q":0.19,"r":5.5e-10,"lo":1e-11,"hi":1.3e-9},{"s":"2","q":0.195,"r":1.0e-9,"lo":1e-11,"hi":1.9e-9},{"s":"2","q":0.2,"r":1.5e-9,"lo":5.0e-10,"hi":2.5e-9},{"s":"2","q":0.205,"r":8.0e-10,"lo":1e-11,"hi":1.8e-9},{"s":"2","q":0.21,"r":2.2e-9,"lo":1.0e-9,"hi":3.4e-9},{"s":"2","q":0.215,"r":1.1e-9,"lo":1e-11,"hi":2.3e-9},{"s":"2","q":0.22,"r":2.6e-9,"lo":1.2e-9,"hi":4.0e-9},{"s":"2","q":0.225,"r":1.4e-10,"lo":1e-11,"hi":1.2e-9},{"s":"2","q":0.23,"r":2.3e-9,"lo":9.0e-10,"hi":3.9e-9},{"s":"2","q":0.235,"r":1.9e-9,"lo":4.0e-10,"hi":3.5e-9},{"s":"2","q":0.24,"r":3.1e-9,"lo":1.5e-9,"hi":4.8e-9},{"s":"2","q":0.245,"r":2.0e-9,"lo":3.0e-10,"hi":3.8e-9},{"s":"2","q":0.249,"r":2.6e-9,"lo":8.0e-10,"hi":4.5e-9},

{"s":"1","q":0.007,"r":2.0e-9},{"s":"1","q":0.008,"r":2.3e-9},{"s":"1","q":0.009,"r":5.0e-9},{"s":"1","q":0.0095,"r":8.6e-9},{"s":"1","q":0.01,"r":9.0e-9},{"s":"1","q":0.011,"r":5.2e-9},{"s":"1","q":0.012,"r":3.4e-9},{"s":"1","q":0.013,"r":2.8e-9},{"s":"1","q":0.014,"r":2.5e-9},{"s":"1","q":0.015,"r":2.4e-9},{"s":"1","q":0.016,"r":2.5e-9},{"s":"1","q":0.018,"r":2.85e-9},{"s":"1","q":0.02,"r":3.25e-9},{"s":"1","q":0.022,"r":3.6e-9},{"s":"1","q":0.025,"r":4.15e-9},{"s":"1","q":0.028,"r":4.7e-9},{"s":"1","q":0.031,"r":5.4e-9},{"s":"1","q":0.034,"r":6.2e-9},{"s":"1","q":0.037,"r":7.0e-9},{"s":"1","q":0.04,"r":8.1e-9},{"s":"1","q":0.043,"r":9.0e-9},{"s":"1","q":0.046,"r":1.0e-8},{"s":"1","q":0.049,"r":1.12e-8},{"s":"1","q":0.052,"r":1.2e-8},{"s":"1","q":0.055,"r":1.31e-8},{"s":"1","q":0.058,"r":1.36e-8},{"s":"1","q":0.061,"r":1.45e-8},{"s":"1","q":0.064,"r":1.48e-8},{"s":"1","q":0.067,"r":1.56e-8},{"s":"1","q":0.07,"r":1.52e-8},{"s":"1","q":0.073,"r":1.58e-8},{"s":"1","q":0.076,"r":1.55e-8},{"s":"1","q":0.079,"r":1.6e-8},{"s":"1","q":0.082,"r":1.52e-8},{"s":"1","q":0.085,"r":1.47e-8},{"s":"1","q":0.088,"r":1.38e-8},{"s":"1","q":0.091,"r":1.35e-8},{"s":"1","q":0.094,"r":1.27e-8},{"s":"1","q":0.097,"r":1.22e-8},{"s":"1","q":0.1,"r":1.12e-8},{"s":"1","q":0.104,"r":1.08e-8},{"s":"1","q":0.108,"r":9.3e-9},{"s":"1","q":0.112,"r":8.9e-9},
{"s":"1","q":0.116,"r":7.4e-9,"lo":7.0e-9,"hi":7.8e-9},{"s":"1","q":0.12,"r":6.9e-9,"lo":6.4e-9,"hi":7.4e-9},{"s":"1","q":0.124,"r":5.5e-9,"lo":5.0e-9,"hi":6.0e-9},{"s":"1","q":0.128,"r":5.0e-9,"lo":4.4e-9,"hi":5.6e-9},{"s":"1","q":0.132,"r":3.8e-9,"lo":3.3e-9,"hi":4.3e-9},{"s":"1","q":0.136,"r":3.6e-9,"lo":3.0e-9,"hi":4.2e-9},{"s":"1","q":0.14,"r":2.5e-9,"lo":1.9e-9,"hi":3.1e-9},{"s":"1","q":0.144,"r":2.3e-9,"lo":1.6e-9,"hi":3.0e-9},{"s":"1","q":0.148,"r":1.5e-9,"lo":9.0e-10,"hi":2.1e-9},{"s":"1","q":0.152,"r":1.1e-9,"lo":4.0e-10,"hi":1.8e-9},{"s":"1","q":0.156,"r":8.5e-10,"lo":1.0e-10,"hi":1.6e-9},{"s":"1","q":0.16,"r":5.0e-10,"lo":1e-11,"hi":1.3e-9},{"s":"1","q":0.164,"r":3.8e-10,"lo":1e-11,"hi":1.1e-9},{"s":"1","q":0.168,"r":5.5e-10,"lo":1e-11,"hi":1.4e-9},{"s":"1","q":0.172,"r":2.6e-10,"lo":1e-11,"hi":1.0e-9},{"s":"1","q":0.176,"r":7.5e-10,"lo":1e-11,"hi":1.7e-9},{"s":"1","q":0.18,"r":1.2e-9,"lo":1.0e-10,"hi":2.3e-9},{"s":"1","q":0.185,"r":6.0e-10,"lo":1e-11,"hi":1.8e-9},{"s":"1","q":0.19,"r":1.9e-9,"lo":5.0e-10,"hi":3.3e-9},{"s":"1","q":0.195,"r":9.5e-10,"lo":1e-11,"hi":2.4e-9},{"s":"1","q":0.2,"r":2.0e-9,"lo":4.0e-10,"hi":3.8e-9},{"s":"1","q":0.205,"r":1.6e-9,"lo":1e-11,"hi":3.4e-9},{"s":"1","q":0.21,"r":4.7e-9,"lo":2.6e-9,"hi":6.8e-9},{"s":"1","q":0.215,"r":7.3e-10,"lo":1e-11,"hi":2.6e-9},{"s":"1","q":0.22,"r":4.8e-9,"lo":2.5e-9,"hi":7.1e-9},{"s":"1","q":0.225,"r":3.0e-9,"lo":8.0e-10,"hi":5.4e-9},{"s":"1","q":0.23,"r":5.0e-9,"lo":2.6e-9,"hi":7.5e-9},{"s":"1","q":0.235,"r":2.0e-9,"lo":1e-11,"hi":4.6e-9},{"s":"1","q":0.24,"r":3.1e-9,"lo":5.0e-10,"hi":5.9e-9},{"s":"1","q":0.245,"r":4.6e-9,"lo":1.6e-9,"hi":7.8e-9},{"s":"1","q":0.249,"r":7.0e-9,"lo":3.5e-9,"hi":1.05e-8}
],
"c_fit": [
{"s":"2","q":0.008,"r":2.0e-9},{"s":"2","q":0.009,"r":5.0e-9},{"s":"2","q":0.0095,"r":8.5e-9},{"s":"2","q":0.01,"r":9.0e-9},{"s":"2","q":0.0105,"r":6.5e-9},{"s":"2","q":0.012,"r":2.5e-9},{"s":"2","q":0.014,"r":1.2e-9},{"s":"2","q":0.016,"r":7.5e-10},{"s":"2","q":0.018,"r":5.5e-10},{"s":"2","q":0.02,"r":4.5e-10},{"s":"2","q":0.023,"r":3.9e-10},{"s":"2","q":0.026,"r":3.7e-10},{"s":"2","q":0.03,"r":3.9e-10},{"s":"2","q":0.035,"r":4.8e-10},{"s":"2","q":0.04,"r":6.0e-10},{"s":"2","q":0.045,"r":7.2e-10},{"s":"2","q":0.05,"r":8.2e-10},{"s":"2","q":0.055,"r":8.8e-10},{"s":"2","q":0.06,"r":9.2e-10},{"s":"2","q":0.065,"r":9.3e-10},{"s":"2","q":0.07,"r":9.2e-10},{"s":"2","q":0.08,"r":8.8e-10},{"s":"2","q":0.09,"r":8.4e-10},{"s":"2","q":0.1,"r":8.0e-10},{"s":"2","q":0.11,"r":7.5e-10},{"s":"2","q":0.12,"r":7.0e-10},{"s":"2","q":0.13,"r":6.6e-10},{"s":"2","q":0.14,"r":6.4e-10},{"s":"2","q":0.15,"r":6.4e-10},{"s":"2","q":0.16,"r":6.7e-10},{"s":"2","q":0.17,"r":7.3e-10},{"s":"2","q":0.18,"r":8.3e-10},{"s":"2","q":0.19,"r":9.8e-10},{"s":"2","q":0.2,"r":1.17e-9},{"s":"2","q":0.21,"r":1.4e-9},{"s":"2","q":0.22,"r":1.65e-9},{"s":"2","q":0.23,"r":1.92e-9},{"s":"2","q":0.24,"r":2.2e-9},{"s":"2","q":0.25,"r":2.45e-9},
{"s":"1","q":0.008,"r":2.0e-9},{"s":"1","q":0.009,"r":5.0e-9},{"s":"1","q":0.0095,"r":8.5e-9},{"s":"1","q":0.01,"r":9.2e-9},{"s":"1","q":0.0105,"r":7.0e-9},{"s":"1","q":0.012,"r":3.5e-9},{"s":"1","q":0.014,"r":2.5e-9},{"s":"1","q":0.016,"r":2.45e-9},{"s":"1","q":0.018,"r":2.8e-9},{"s":"1","q":0.02,"r":3.2e-9},{"s":"1","q":0.025,"r":4.1e-9},{"s":"1","q":0.03,"r":5.2e-9},{"s":"1","q":0.035,"r":6.5e-9},{"s":"1","q":0.04,"r":8.0e-9},{"s":"1","q":0.045,"r":9.7e-9},{"s":"1","q":0.05,"r":1.15e-8},{"s":"1","q":0.055,"r":1.3e-8},{"s":"1","q":0.06,"r":1.42e-8},{"s":"1","q":0.065,"r":1.5e-8},{"s":"1","q":0.07,"r":1.55e-8},{"s":"1","q":0.075,"r":1.56e-8},{"s":"1","q":0.08,"r":1.53e-8},{"s":"1","q":0.085,"r":1.45e-8},{"s":"1","q":0.09,"r":1.35e-8},{"s":"1","q":0.095,"r":1.25e-8},{"s":"1","q":0.1,"r":1.15e-8},{"s":"1","q":0.105,"r":1.03e-8},{"s":"1","q":0.11,"r":9.0e-9},{"s":"1","q":0.115,"r":7.8e-9},{"s":"1","q":0.12,"r":6.6e-9},{"s":"1","q":0.125,"r":5.4e-9},{"s":"1","q":0.13,"r":4.3e-9},{"s":"1","q":0.135,"r":3.3e-9},{"s":"1","q":0.14,"r":2.5e-9},{"s":"1","q":0.145,"r":1.85e-9},{"s":"1","q":0.15,"r":1.35e-9},{"s":"1","q":0.155,"r":9.8e-10},{"s":"1","q":0.16,"r":7.5e-10},{"s":"1","q":0.165,"r":6.2e-10},{"s":"1","q":0.17,"r":5.7e-10},{"s":"1","q":0.175,"r":6.0e-10},{"s":"1","q":0.18,"r":7.4e-10},{"s":"1","q":0.185,"r":9.8e-10},{"s":"1","q":0.19,"r":1.3e-9},{"s":"1","q":0.195,"r":1.7e-9},{"s":"1","q":0.2,"r":2.15e-9},{"s":"1","q":0.205,"r":2.6e-9},{"s":"1","q":0.21,"r":3.0e-9},{"s":"1","q":0.215,"r":3.4e-9},{"s":"1","q":0.22,"r":3.7e-9},{"s":"1","q":0.225,"r":3.95e-9},{"s":"1","q":0.23,"r":4.15e-9},{"s":"1","q":0.235,"r":4.3e-9},{"s":"1","q":0.24,"r":4.4e-9},{"s":"1","q":0.245,"r":4.45e-9},{"s":"1","q":0.25,"r":4.45e-9}
],
"c_lab": [{"q":0.0205,"r":2.07e-8,"t":"c"}],
"b_lines": [
{"s":"1","z":-20,"v":4.17},{"s":"1","z":-17.5,"v":4.17},{"s":"1","z":-15,"v":4.17},{"s":"1","z":-12.5,"v":4.17},{"s":"1","z":-10,"v":4.17},{"s":"1","z":-7.5,"v":4.16},{"s":"1","z":-5,"v":4.08},{"s":"1","z":-2.5,"v":3.85},{"s":"1","z":0,"v":3.6},{"s":"1","z":2.5,"v":3.48},{"s":"1","z":5,"v":3.44},{"s":"1","z":7.5,"v":3.43},{"s":"1","z":10,"v":3.43},{"s":"1","z":12.5,"v":3.43},{"s":"1","z":15,"v":3.43},{"s":"1","z":17.5,"v":3.45},{"s":"1","z":20,"v":3.5},{"s":"1","z":22.5,"v":3.62},{"s":"1","z":25,"v":3.8},{"s":"1","z":27.5,"v":4.1},{"s":"1","z":30,"v":4.5},{"s":"1","z":32.5,"v":4.95},{"s":"1","z":35,"v":5.35},{"s":"1","z":37.5,"v":5.68},{"s":"1","z":40,"v":5.92},{"s":"1","z":42.5,"v":6.06},{"s":"1","z":45,"v":6.14},{"s":"1","z":47.5,"v":6.18},{"s":"1","z":50,"v":6.2},{"s":"1","z":55,"v":6.2},{"s":"1","z":60,"v":6.2},{"s":"1","z":65,"v":6.2},{"s":"1","z":70,"v":6.2},
{"s":"2","z":-20,"v":4.17},{"s":"2","z":-17.5,"v":4.17},{"s":"2","z":-15,"v":4.17},{"s":"2","z":-12.5,"v":4.17},{"s":"2","z":-10,"v":4.16},{"s":"2","z":-7.5,"v":4.13},{"s":"2","z":-5,"v":4.02},{"s":"2","z":-2.5,"v":3.72},{"s":"2","z":0,"v":3.4},{"s":"2","z":2.5,"v":3.2},{"s":"2","z":5,"v":3.13},{"s":"2","z":7.5,"v":3.12},{"s":"2","z":10,"v":3.12},{"s":"2","z":12.5,"v":3.12},{"s":"2","z":15,"v":3.12},{"s":"2","z":17.5,"v":3.13},{"s":"2","z":20,"v":3.15},{"s":"2","z":22.5,"v":3.22},{"s":"2","z":25,"v":3.45},{"s":"2","z":27.5,"v":3.8},{"s":"2","z":30,"v":4.15},{"s":"2","z":32.5,"v":4.55},{"s":"2","z":35,"v":4.95},{"s":"2","z":37.5,"v":5.3},{"s":"2","z":40,"v":5.6},{"s":"2","z":42.5,"v":5.85},{"s":"2","z":45,"v":6.02},{"s":"2","z":47.5,"v":6.12},{"s":"2","z":50,"v":6.17},{"s":"2","z":52.5,"v":6.19},{"s":"2","z":55,"v":6.2},{"s":"2","z":60,"v":6.2},{"s":"2","z":65,"v":6.2},{"s":"2","z":70,"v":6.2},
{"s":"3","z":-20,"v":4.17},{"s":"3","z":-17.5,"v":4.15},{"s":"3","z":-15,"v":4.13},{"s":"3","z":-12.5,"v":4.05},{"s":"3","z":-10,"v":3.93},{"s":"3","z":-7.5,"v":3.72},{"s":"3","z":-5,"v":3.42},{"s":"3","z":-2.5,"v":3.05},{"s":"3","z":0,"v":2.65},{"s":"3","z":2.5,"v":2.3},{"s":"3","z":5,"v":1.98},{"s":"3","z":7.5,"v":1.72},{"s":"3","z":10,"v":1.52},{"s":"3","z":12.5,"v":1.41},{"s":"3","z":15,"v":1.38},{"s":"3","z":17.5,"v":1.45},{"s":"3","z":20,"v":1.62},{"s":"3","z":22.5,"v":1.9},{"s":"3","z":25,"v":2.3},{"s":"3","z":27.5,"v":2.75},{"s":"3","z":30,"v":3.25},{"s":"3","z":32.5,"v":3.8},{"s":"3","z":35,"v":4.35},{"s":"3","z":37.5,"v":4.85},{"s":"3","z":40,"v":5.25},{"s":"3","z":42.5,"v":5.57},{"s":"3","z":45,"v":5.8},{"s":"3","z":47.5,"v":5.97},{"s":"3","z":50,"v":6.08},{"s":"3","z":52.5,"v":6.14},{"s":"3","z":55,"v":6.18},{"s":"3","z":57.5,"v":6.2},{"s":"3","z":60,"v":6.2},{"s":"3","z":65,"v":6.2},{"s":"3","z":70,"v":6.2},
{"s":"4","z":-20,"v":4.17},{"s":"4","z":-17.5,"v":4.15},{"s":"4","z":-15,"v":4.12},{"s":"4","z":-12.5,"v":4.03},{"s":"4","z":-10,"v":3.9},{"s":"4","z":-7.5,"v":3.67},{"s":"4","z":-5,"v":3.3},{"s":"4","z":-2.5,"v":2.85},{"s":"4","z":0,"v":2.35},{"s":"4","z":2.5,"v":1.9},{"s":"4","z":5,"v":1.5},{"s":"4","z":7.5,"v":1.15},{"s":"4","z":10,"v":0.9},{"s":"4","z":12.5,"v":0.73},{"s":"4","z":15,"v":0.69},{"s":"4","z":17.5,"v":0.8},{"s":"4","z":20,"v":1.0},{"s":"4","z":22.5,"v":1.3},{"s":"4","z":25,"v":1.7},{"s":"4","z":27.5,"v":2.15},{"s":"4","z":30,"v":2.65},{"s":"4","z":32.5,"v":3.15},{"s":"4","z":35,"v":3.65},{"s":"4","z":37.5,"v":4.1},{"s":"4","z":40,"v":4.55},{"s":"4","z":42.5,"v":4.95},{"s":"4","z":45,"v":5.3},{"s":"4","z":47.5,"v":5.63},{"s":"4","z":50,"v":5.86},{"s":"4","z":52.5,"v":6.0},{"s":"4","z":55,"v":6.08},{"s":"4","z":57.5,"v":6.13},{"s":"4","z":60,"v":6.17},{"s":"4","z":62.5,"v":6.19},{"s":"4","z":65,"v":6.2},{"s":"4","z":70,"v":6.2},
{"s":"5","z":-20,"v":4.17},{"s":"5","z":-17.5,"v":4.15},{"s":"5","z":-15,"v":4.1},{"s":"5","z":-12.5,"v":4.0},{"s":"5","z":-10,"v":3.85},{"s":"5","z":-7.5,"v":3.6},{"s":"5","z":-5,"v":3.25},{"s":"5","z":-2.5,"v":2.75},{"s":"5","z":0,"v":2.15},{"s":"5","z":2.5,"v":1.5},{"s":"5","z":5,"v":0.9},{"s":"5","z":7.5,"v":0.42},{"s":"5","z":10,"v":0.12},{"s":"5","z":12.5,"v":0.03},{"s":"5","z":15,"v":0.09},{"s":"5","z":17.5,"v":0.25},{"s":"5","z":20,"v":0.5},{"s":"5","z":22.5,"v":0.82},{"s":"5","z":25,"v":1.15},{"s":"5","z":27.5,"v":1.52},{"s":"5","z":30,"v":1.95},{"s":"5","z":32.5,"v":2.45},{"s":"5","z":35,"v":3.0},{"s":"5","z":37.5,"v":3.5},{"s":"5","z":40,"v":3.98},{"s":"5","z":42.5,"v":4.4},{"s":"5","z":45,"v":4.85},{"s":"5","z":47.5,"v":5.2},{"s":"5","z":50,"v":5.5},{"s":"5","z":52.5,"v":5.72},{"s":"5","z":55,"v":5.88},{"s":"5","z":57.5,"v":5.98},{"s":"5","z":60,"v":6.06},{"s":"5","z":62.5,"v":6.12},{"s":"5","z":65,"v":6.16},{"s":"5","z":67.5,"v":6.18},{"s":"5","z":70,"v":6.2}
],
"b_lab": [{"z":-14.7,"v":6.24,"t":"b"}],
"d_lines": [
{"s":"2","z":-20,"v":4.17},{"s":"2","z":-10,"v":4.17},{"s":"2","z":-8,"v":4.16},{"s":"2","z":-6,"v":4.12},{"s":"2","z":-4,"v":4.04},{"s":"2","z":-2,"v":3.93},{"s":"2","z":0,"v":3.85},{"s":"2","z":2,"v":3.81},{"s":"2","z":4,"v":3.8},{"s":"2","z":10,"v":3.8},{"s":"2","z":20,"v":3.8},{"s":"2","z":25,"v":3.81},{"s":"2","z":27,"v":3.87},{"s":"2","z":29,"v":4.1},{"s":"2","z":31,"v":4.6},{"s":"2","z":33,"v":5.15},{"s":"2","z":35,"v":5.55},{"s":"2","z":37,"v":5.73},{"s":"2","z":39,"v":5.79},{"s":"2","z":42,"v":5.8},{"s":"2","z":60,"v":5.8},{"s":"2","z":80,"v":5.8},{"s":"2","z":100,"v":5.81},{"s":"2","z":110,"v":5.83},{"s":"2","z":120,"v":5.87},{"s":"2","z":130,"v":5.94},{"s":"2","z":140,"v":6.03},{"s":"2","z":150,"v":6.11},{"s":"2","z":160,"v":6.17},{"s":"2","z":170,"v":6.21},{"s":"2","z":180,"v":6.24},{"s":"2","z":190,"v":6.26},{"s":"2","z":200,"v":6.27},
{"s":"1","z":-20,"v":4.17},{"s":"1","z":-16,"v":4.17},{"s":"1","z":-12,"v":4.16},{"s":"1","z":-10,"v":4.13},{"s":"1","z":-8,"v":4.05},{"s":"1","z":-6,"v":3.85},{"s":"1","z":-4,"v":3.4},{"s":"1","z":-2,"v":2.8},{"s":"1","z":0,"v":2.0},{"s":"1","z":2,"v":1.25},{"s":"1","z":4,"v":0.6},{"s":"1","z":6,"v":0.15},{"s":"1","z":8,"v":-0.08},{"s":"1","z":10,"v":-0.16},{"s":"1","z":12,"v":-0.18},{"s":"1","z":15,"v":-0.19},{"s":"1","z":18,"v":-0.19},{"s":"1","z":21,"v":-0.18},{"s":"1","z":23,"v":-0.14},{"s":"1","z":25,"v":-0.03},{"s":"1","z":27,"v":0.3},{"s":"1","z":29,"v":0.85},{"s":"1","z":31,"v":1.5},{"s":"1","z":33,"v":2.2},{"s":"1","z":35,"v":3.0},{"s":"1","z":37,"v":3.85},{"s":"1","z":39,"v":4.65},{"s":"1","z":41,"v":5.35},{"s":"1","z":43,"v":5.85},{"s":"1","z":45,"v":6.08},{"s":"1","z":47,"v":6.16},{"s":"1","z":50,"v":6.19},{"s":"1","z":60,"v":6.2},{"s":"1","z":100,"v":6.2},{"s":"1","z":150,"v":6.2},{"s":"1","z":200,"v":6.2}
],
"d_lab": [{"z":-0.8,"v":6.51,"t":"d"}],
"d_txt": [{"z":97,"v":5.08,"t":"graded"},{"z":97,"v":4.26,"t":"interface"}]
},
"concat": [
{
 "width": 388, "height": 387,
 "resolve": {"axis": {"x": "independent", "y": "independent"}},
 "layer": [
  {"data": {"name": "a_pts"}, "transform": [{"filter": "isValid(datum.lo)"}],
   "mark": {"type": "rule", "clip": true, "strokeWidth": 1},
   "encoding": {
    "x": {"field": "q", "type": "quantitative", "scale": {"domain": [0, 0.2], "nice": false, "zero": false},
          "axis": {"orient": "bottom", "values": [0, 0.05, 0.1, 0.15, 0.2], "format": "~g", "ticks": true, "tickSize": -8, "labelPadding": 18, "labelFlush": false, "title": "Q", "titleX": 137, "titleY": 56, "titleAlign": "left", "titleBaseline": "alphabetic", "titleAnchor": "start"}},
    "y": {"field": "lo", "type": "quantitative", "scale": {"type": "log", "domain": [1e-10, 1.95e-8], "nice": false},
          "axis": {"orient": "left", "values": [1e-10, 1e-9, 1e-8], "ticks": true, "tickSize": -8, "labelExpr": "'10'", "labelBaseline": "middle", "labelPadding": {"condition": {"test": "datum.value < 5e-10", "value": 41}, "value": 33}, "title": "R Q", "titleX": -72, "titleY": 195, "titleAngle": 270, "titleAlign": "left", "titleBaseline": "alphabetic", "titleAnchor": "start"}},
    "y2": {"field": "hi"},
    "color": {"field": "s", "type": "nominal", "scale": {"domain": ["1","2","3","4","5"], "range": ["#111111","#3a3a3a","#626262","#a2a2a2","#c2c2c2"]}, "legend": null}}},
  {"data": {"name": "a_pts"}, "transform": [{"filter": "isValid(datum.hi)"}],
   "mark": {"type": "tick", "orient": "horizontal", "clip": true, "size": 5, "thickness": 1},
   "encoding": {
    "x": {"field": "q", "type": "quantitative", "scale": {"domain": [0, 0.2], "nice": false, "zero": false},
          "axis": {"orient": "bottom", "labels": false, "ticks": false, "title": "z", "titleFontSize": 18, "titleX": 163, "titleY": 71, "titleAlign": "left", "titleBaseline": "alphabetic", "titleAnchor": "start"}},
    "y": {"field": "hi", "type": "quantitative", "scale": {"type": "log", "domain": [1e-10, 1.95e-8], "nice": false},
          "axis": {"orient": "left", "values": [1e-10, 1e-9, 1e-8], "ticks": false, "labelExpr": "datum.value < 5e-10 ? '-10' : datum.value < 5e-9 ? '-9' : '-8'", "labelFontSize": 15, "labelPadding": 10, "labelOffset": -11, "labelBaseline": "middle", "title": "4", "titleFontSize": 17, "titleX": -86, "titleY": 130, "titleAngle": 270, "titleAlign": "left", "titleBaseline": "alphabetic", "titleAnchor": "start"}},
    "color": {"field": "s", "type": "nominal", "scale": {"domain": ["1","2","3","4","5"], "range": ["#111111","#3a3a3a","#626262","#a2a2a2","#c2c2c2"]}, "legend": null}}},
  {"data": {"name": "a_pts"}, "transform": [{"filter": "isValid(datum.lo)"}],
   "mark": {"type": "tick", "orient": "horizontal", "clip": true, "size": 5, "thickness": 1},
   "encoding": {
    "x": {"field": "q", "type": "quantitative", "scale": {"domain": [0, 0.2], "nice": false, "zero": false},
          "axis": {"orient": "bottom", "labels": false, "ticks": false, "title": "[Å⁻¹]", "titleX": 180, "titleY": 56, "titleAlign": "left", "titleBaseline": "alphabetic", "titleAnchor": "start"}},
    "y": {"field": "lo", "type": "quantitative", "scale": {"type": "log", "domain": [1e-10, 1.95e-8], "nice": false},
          "axis": {"orient": "left", "labels": false, "ticks": false, "title": "z", "titleFontSize": 17, "titleX": -57, "titleY": 137, "titleAngle": 270, "titleAlign": "left", "titleBaseline": "alphabetic", "titleAnchor": "start"}},
    "color": {"field": "s", "type": "nominal", "scale": {"domain": ["1","2","3","4","5"], "range": ["#111111","#3a3a3a","#626262","#a2a2a2","#c2c2c2"]}, "legend": null}}},
  {"data": {"name": "a_pts"},
   "mark": {"type": "point", "filled": false, "size": 36, "strokeWidth": 1.1, "clip": true},
   "encoding": {
    "x": {"field": "q", "type": "quantitative", "scale": {"domain": [0, 0.2], "nice": false, "zero": false},
          "axis": {"orient": "top", "values": [0, 0.05, 0.1, 0.15, 0.2], "ticks": true, "tickSize": -8, "labelExpr": "''", "title": null}},
    "y": {"field": "r", "type": "quantitative", "scale": {"type": "log", "domain": [1e-10, 1.95e-8], "nice": false},
          "axis": {"orient": "right", "values": [1e-10, 1e-9, 1e-8], "ticks": true, "tickSize": -8, "labelExpr": "''", "title": null}},
    "color": {"field": "s", "type": "nominal", "scale": {"domain": ["1","2","3","4","5"], "range": ["#111111","#3a3a3a","#626262","#a2a2a2","#c2c2c2"]}, "legend": null}}},
  {"data": {"name": "a_fit"},
   "mark": {"type": "line", "strokeWidth": 2, "interpolate": "monotone", "clip": true},
   "encoding": {
    "x": {"field": "q", "type": "quantitative", "scale": {"domain": [0, 0.2], "nice": false, "zero": false}, "axis": null},
    "y": {"field": "r", "type": "quantitative", "scale": {"type": "log", "domain": [1e-10, 1.95e-8], "nice": false}, "axis": null},
    "color": {"field": "s", "type": "nominal", "scale": {"domain": ["1","2","3","4","5"], "range": ["#111111","#3a3a3a","#626262","#a2a2a2","#c2c2c2"]}, "legend": null}}},
  {"data": {"name": "a_lab"},
   "mark": {"type": "text", "font": "Liberation Sans", "fontWeight": "bold", "fontSize": 38, "align": "center", "baseline": "alphabetic", "color": "#111111"},
   "encoding": {
    "x": {"field": "q", "type": "quantitative", "scale": {"domain": [0, 0.2], "nice": false, "zero": false}, "axis": null},
    "y": {"field": "r", "type": "quantitative", "scale": {"type": "log", "domain": [1e-10, 1.95e-8], "nice": false}, "axis": null},
    "text": {"field": "t"}}}
 ]
},
{
 "width": 383, "height": 387,
 "resolve": {"axis": {"x": "independent", "y": "independent"}},
 "layer": [
  {"data": {"name": "b_lines"},
   "mark": {"type": "line", "strokeWidth": 2.5, "interpolate": "monotone", "clip": true},
   "encoding": {
    "x": {"field": "z", "type": "quantitative", "scale": {"domain": [-20, 70], "nice": false, "zero": false},
          "axis": {"orient": "bottom", "values": [-20, 0, 20, 40, 60], "ticks": true, "tickSize": -8, "labelPadding": 18, "labelFlush": false, "title": "Z [Å]", "titleX": 195, "titleY": 63, "titleAlign": "center", "titleBaseline": "alphabetic"}},
    "y": {"field": "v", "type": "quantitative", "scale": {"domain": [-0.5, 7.08], "nice": false, "zero": false},
          "axis": {"orient": "left", "values": [0, 1, 2, 3, 4, 5, 6, 7], "ticks": true, "tickSize": -8, "labelPadding": 17, "title": "SLD [10⁻⁶ Å⁻²]", "titleX": -47, "titleY": 149, "titleAngle": 270, "titleAlign": "center", "titleBaseline": "alphabetic"}},
    "color": {"field": "s", "type": "nominal", "scale": {"domain": ["1","2","3","4","5"], "range": ["#c4c4c4","#a2a2a2","#585858","#303030","#111111"]}, "legend": null}}},
  {"data": {"name": "b_lab"},
   "mark": {"type": "text", "font": "Liberation Sans", "fontWeight": "bold", "fontSize": 38, "align": "center", "baseline": "alphabetic", "color": "#111111"},
   "encoding": {
    "x": {"field": "z", "type": "quantitative", "scale": {"domain": [-20, 70], "nice": false, "zero": false},
          "axis": {"orient": "top", "values": [-20, 0, 20, 40, 60], "ticks": true, "tickSize": -8, "labelExpr": "''", "title": null}},
    "y": {"field": "v", "type": "quantitative", "scale": {"domain": [-0.5, 7.08], "nice": false, "zero": false},
          "axis": {"orient": "right", "values": [0, 1, 2, 3, 4, 5, 6, 7], "ticks": true, "tickSize": -8, "labelExpr": "''", "title": null}},
    "text": {"field": "t"}}}
 ]
},
{
 "width": 390, "height": 390,
 "resolve": {"axis": {"x": "independent", "y": "independent"}},
 "layer": [
  {"data": {"name": "c_pts"}, "transform": [{"filter": "isValid(datum.lo)"}],
   "mark": {"type": "rule", "clip": true, "strokeWidth": 1},
   "encoding": {
    "x": {"field": "q", "type": "quantitative", "scale": {"domain": [0, 0.25], "nice": false, "zero": false},
          "axis": {"orient": "bottom", "values": [0, 0.05, 0.1, 0.15, 0.2, 0.25], "format": "~g", "ticks": true, "tickSize": -8, "labelPadding": 18, "labelFlush": false, "title": "Q", "titleX": 135, "titleY": 55, "titleAlign": "left", "titleBaseline": "alphabetic", "titleAnchor": "start"}},
    "y": {"field": "lo", "type": "quantitative", "scale": {"type": "log", "domain": [1e-10, 4.9e-8], "nice": false},
          "axis": {"orient": "left", "values": [1e-10, 1e-9, 1e-8], "ticks": true, "tickSize": -8, "labelExpr": "'10'", "labelBaseline": "middle", "labelPadding": {"condition": {"test": "datum.value < 5e-10", "value": 41}, "value": 33}, "title": "R Q", "titleX": -72, "titleY": 210, "titleAngle": 270, "titleAlign": "left", "titleBaseline": "alphabetic", "titleAnchor": "start"}},
    "y2": {"field": "hi"},
    "color": {"field": "s", "type": "nominal", "scale": {"domain": ["1","2"], "range": ["#141414","#a3a3a3"]}, "legend": null}}},
  {"data": {"name": "c_pts"}, "transform": [{"filter": "isValid(datum.hi)"}],
   "mark": {"type": "tick", "orient": "horizontal", "clip": true, "size": 5, "thickness": 1},
   "encoding": {
    "x": {"field": "q", "type": "quantitative", "scale": {"domain": [0, 0.25], "nice": false, "zero": false},
          "axis": {"orient": "bottom", "labels": false, "ticks": false, "title": "z", "titleFontSize": 18, "titleX": 163, "titleY": 72, "titleAlign": "left", "titleBaseline": "alphabetic", "titleAnchor": "start"}},
    "y": {"field": "hi", "type": "quantitative", "scale": {"type": "log", "domain": [1e-10, 4.9e-8], "nice": false},
          "axis": {"orient": "left", "values": [1e-10, 1e-9, 1e-8], "ticks": false, "labelExpr": "datum.value < 5e-10 ? '-10' : datum.value < 5e-9 ? '-9' : '-8'", "labelFontSize": 15, "labelPadding": 10, "labelOffset": -11, "labelBaseline": "middle", "title": "4", "titleFontSize": 17, "titleX": -86, "titleY": 139, "titleAngle": 270, "titleAlign": "left", "titleBaseline": "alphabetic", "titleAnchor": "start"}},
    "color": {"field": "s", "type": "nominal", "scale": {"domain": ["1","2"], "range": ["#141414","#a3a3a3"]}, "legend": null}}},
  {"data": {"name": "c_pts"}, "transform": [{"filter": "isValid(datum.lo)"}],
   "mark": {"type": "tick", "orient": "horizontal", "clip": true, "size": 5, "thickness": 1},
   "encoding": {
    "x": {"field": "q", "type": "quantitative", "scale": {"domain": [0, 0.25], "nice": false, "zero": false},
          "axis": {"orient": "bottom", "labels": false, "ticks": false, "title": "[Å⁻¹]", "titleX": 177, "titleY": 55, "titleAlign": "left", "titleBaseline": "alphabetic", "titleAnchor": "start"}},
    "y": {"field": "lo", "type": "quantitative", "scale": {"type": "log", "domain": [1e-10, 4.9e-8], "nice": false},
          "axis": {"orient": "left", "labels": false, "ticks": false, "title": "z", "titleFontSize": 17, "titleX": -57, "titleY": 149, "titleAngle": 270, "titleAlign": "left", "titleBaseline": "alphabetic", "titleAnchor": "start"}},
    "color": {"field": "s", "type": "nominal", "scale": {"domain": ["1","2"], "range": ["#141414","#a3a3a3"]}, "legend": null}}},
  {"data": {"name": "c_pts"},
   "mark": {"type": "point", "filled": false, "size": 36, "strokeWidth": 1.1, "clip": true},
   "encoding": {
    "x": {"field": "q", "type": "quantitative", "scale": {"domain": [0, 0.25], "nice": false, "zero": false},
          "axis": {"orient": "top", "values": [0, 0.05, 0.1, 0.15, 0.2, 0.25], "ticks": true, "tickSize": -8, "labelExpr": "''", "title": null}},
    "y": {"field": "r", "type": "quantitative", "scale": {"type": "log", "domain": [1e-10, 4.9e-8], "nice": false},
          "axis": {"orient": "right", "values": [1e-10, 1e-9, 1e-8], "ticks": true, "tickSize": -8, "labelExpr": "''", "title": null}},
    "color": {"field": "s", "type": "nominal", "scale": {"domain": ["1","2"], "range": ["#141414","#a3a3a3"]}, "legend": null}}},
  {"data": {"name": "c_fit"},
   "mark": {"type": "line", "strokeWidth": 2, "interpolate": "monotone", "clip": true},
   "encoding": {
    "x": {"field": "q", "type": "quantitative", "scale": {"domain": [0, 0.25], "nice": false, "zero": false}, "axis": null},
    "y": {"field": "r", "type": "quantitative", "scale": {"type": "log", "domain": [1e-10, 4.9e-8], "nice": false}, "axis": null},
    "color": {"field": "s", "type": "nominal", "scale": {"domain": ["1","2"], "range": ["#141414","#a3a3a3"]}, "legend": null}}},
  {"data": {"name": "c_lab"},
   "mark": {"type": "text", "font": "Liberation Sans", "fontWeight": "bold", "fontSize": 38, "align": "center", "baseline": "alphabetic", "color": "#111111"},
   "encoding": {
    "x": {"field": "q", "type": "quantitative", "scale": {"domain": [0, 0.25], "nice": false, "zero": false}, "axis": null},
    "y": {"field": "r", "type": "quantitative", "scale": {"type": "log", "domain": [1e-10, 4.9e-8], "nice": false}, "axis": null},
    "text": {"field": "t"}}}
 ]
},
{
 "width": 390, "height": 396,
 "resolve": {"axis": {"x": "independent", "y": "independent"}},
 "layer": [
  {"data": {"name": "d_lines"},
   "mark": {"type": "line", "strokeWidth": 2.5, "interpolate": "monotone", "clip": true},
   "encoding": {
    "x": {"field": "z", "type": "quantitative", "scale": {"domain": [-20, 200], "nice": false, "zero": false},
          "axis": {"orient": "bottom", "values": [0, 50, 100, 150, 200], "ticks": true, "tickSize": -8, "labelPadding": 18, "labelFlush": false, "title": "Z [Å]", "titleX": 195, "titleY": 59, "titleAlign": "center", "titleBaseline": "alphabetic"}},
    "y": {"field": "v", "type": "quantitative", "scale": {"domain": [-0.5, 7.62], "nice": false, "zero": false},
          "axis": {"orient": "left", "values": [0, 1, 2, 3, 4, 5, 6, 7], "ticks": true, "tickSize": -8, "labelPadding": 17, "title": "SLD [10⁻⁶ Å⁻²]", "titleX": -47, "titleY": 182, "titleAngle": 270, "titleAlign": "center", "titleBaseline": "alphabetic"}},
    "color": {"field": "s", "type": "nominal", "scale": {"domain": ["1","2"], "range": ["#111111","#a8a8a8"]}, "legend": null}}},
  {"data": {"name": "d_lab"},
   "mark": {"type": "text", "font": "Liberation Sans", "fontWeight": "bold", "fontSize": 38, "align": "center", "baseline": "alphabetic", "color": "#111111"},
   "encoding": {
    "x": {"field": "z", "type": "quantitative", "scale": {"domain": [-20, 200], "nice": false, "zero": false},
          "axis": {"orient": "top", "values": [0, 50, 100, 150, 200], "ticks": true, "tickSize": -8, "labelExpr": "''", "title": null}},
    "y": {"field": "v", "type": "quantitative", "scale": {"domain": [-0.5, 7.62], "nice": false, "zero": false},
          "axis": {"orient": "right", "values": [0, 1, 2, 3, 4, 5, 6, 7], "ticks": true, "tickSize": -8, "labelExpr": "''", "title": null}},
    "text": {"field": "t"}}},
  {"data": {"name": "d_txt"},
   "mark": {"type": "text", "font": "Liberation Sans", "fontWeight": "bold", "fontSize": 35, "align": "center", "baseline": "alphabetic", "color": "#111111"},
   "encoding": {
    "x": {"field": "z", "type": "quantitative", "scale": {"domain": [-20, 200], "nice": false, "zero": false}, "axis": null},
    "y": {"field": "v", "type": "quantitative", "scale": {"domain": [-0.5, 7.62], "nice": false, "zero": false}, "axis": null},
    "text": {"field": "t"}}}
 ]
}
]
}
